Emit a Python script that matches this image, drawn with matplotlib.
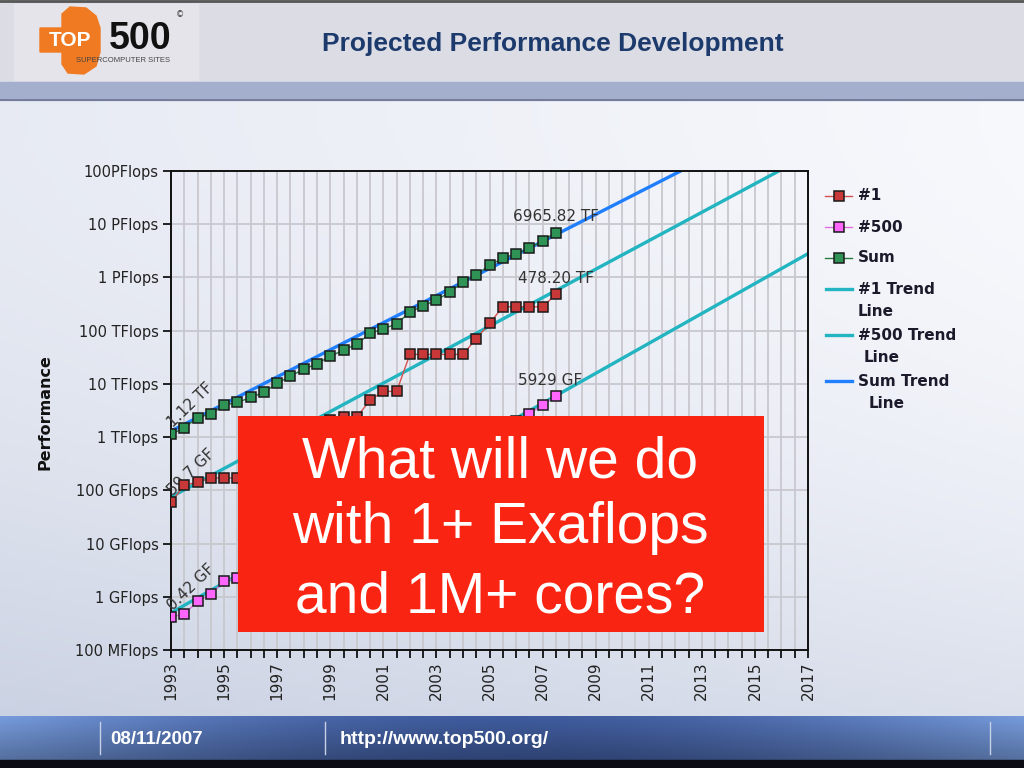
import numpy as np
import matplotlib
matplotlib.use('Agg')
import matplotlib.pyplot as plt
from matplotlib.patches import Rectangle, Polygon
from matplotlib.ticker import FixedLocator, MultipleLocator, NullFormatter

# TOP500 lists, June / November, plotted at year / year + 0.5
years = [1993.0, 1993.5, 1994.0, 1994.5, 1995.0, 1995.5, 1996.0, 1996.5,
         1997.0, 1997.5, 1998.0, 1998.5, 1999.0, 1999.5, 2000.0, 2000.5,
         2001.0, 2001.5, 2002.0, 2002.5, 2003.0, 2003.5, 2004.0, 2004.5,
         2005.0, 2005.5, 2006.0, 2006.5, 2007.0, 2007.5]

# values in GFlops
rank1 = [59.7, 124.5, 143.4, 170.4, 170.4, 170.4, 220.4, 368.2,
         1068, 1338, 1338, 1338, 2121, 2379, 2379, 4938,
         7226, 7226, 35860, 35860, 35860, 35860, 35860, 70720,
         136800, 280600, 280600, 280600, 280600, 478200]
rank500 = [0.42, 0.47, 0.82, 1.11, 1.96, 2.26, 2.6, 3.3,
           9.5, 17.1, 17.6, 24.7, 33.1, 33.1, 43.8, 55.1,
           67.8, 94.3, 134.3, 195.8, 245.1, 403.4, 624.0, 850.6,
           1166, 1646, 2026, 2737, 4005, 5929]
total = [1128, 1493, 2318, 2732, 3992, 4481, 5557, 6929,
         10200, 14100, 18700, 24100, 32800, 43400, 55500, 88600,
         108600, 134400, 222300, 293100, 374500, 528200, 813100, 1127000,
         1690000, 2300000, 2791000, 3530000, 4920000, 6965820]

# fitted trend lines (endpoints)
trend1_x, trend1_y = [1993.0, 2015.9], [75, 1e8]
trend500_x, trend500_y = [1993.0, 2017.0], [0.5, 2.8e6]
trendsum_x, trendsum_y = [1993.0, 2012.2], [1300, 1e8]

ytick_vals = [0.1, 1, 10, 100, 1e3, 1e4, 1e5, 1e6, 1e7, 1e8]
ytick_labels = ['100 MFlops', '1 GFlops', '10 GFlops', '100 GFlops', '1 TFlops',
                '10 TFlops', '100 TFlops', '1 PFlops', '10 PFlops', '100PFlops']
xtick_years = list(range(1993, 2018, 2))

W, H = 1024, 768
fig = plt.figure(figsize=(10.24, 7.68), dpi=100)

# ---- slide background (pixel coords) ----
bg = fig.add_axes([0, 0, 1, 1], zorder=-10)
bg.set_xlim(0, W)
bg.set_ylim(H, 0)
bg.axis('off')

gx, gy = np.meshgrid(np.linspace(0, 1, 200), np.linspace(0, 1, 150))
t = np.clip(0.33 * (1 - gx) + 0.6 * gy ** 2, 0, 1)
c0 = np.array([0.97, 0.975, 0.99])
c1 = np.array([0.78, 0.81, 0.88])
grad = c0[None, None, :] * (1 - t[..., None]) + c1[None, None, :] * t[..., None]
bg.imshow(grad, extent=[0, W, 718, 100], aspect='auto', zorder=0)

# header
bg.add_patch(Rectangle((0, 0), W, 82, color='#dcdce5', zorder=1))
bg.add_patch(Rectangle((14, 4), 184, 76, color='#e4e4ea', zorder=1))
bg.add_patch(Rectangle((0, 82), W, 18, color='#a3afcc', zorder=1))
bg.plot([0, W], [100, 100], color='#6c7490', lw=1.2, zorder=2)
bg.plot([0, W], [1, 1], color='#555555', lw=2, zorder=2)

# logo
bg.add_patch(Polygon([(62, 14), (70, 7), (86, 8), (96, 16), (100, 28), (100, 52),
                      (96, 66), (84, 74), (68, 73), (62, 64), (62, 52), (40, 52),
                      (40, 28), (62, 28)], closed=True, color='#f07a22', zorder=3))
bg.text(70, 40, 'TOP', color='white', fontsize=15, fontweight='bold',
        ha='center', va='center', family='Liberation Sans', zorder=4)
bg.text(140, 39, '500', color='#111111', fontsize=27, fontweight='bold',
        ha='center', va='center', family='Liberation Sans', zorder=4)
bg.text(123, 61, 'SUPERCOMPUTER SITES', color='#444444', fontsize=5.5,
        ha='center', va='center', family='Liberation Sans', zorder=4)
bg.text(180, 15, '©', color='#333333', fontsize=6, ha='center', va='center', zorder=4)

bg.text(553, 44, 'Projected Performance Development', color='#1c3a6c',
        fontsize=19, fontweight='bold', ha='center', va='center',
        family='Liberation Sans', zorder=4)

# footer
fx = np.linspace(0, 1, 300)
k = np.sin(np.pi * fx)[:, None] * 0.6
fcol = np.array([0.42, 0.55, 0.78])[None, :] * (1 - k) + np.array([0.10, 0.18, 0.42])[None, :] * k
fgrad = np.repeat(fcol[None, :, :], 20, axis=0)
fgrad = np.clip(fgrad * np.linspace(1.1, 0.8, 20)[:, None, None], 0, 1)
bg.imshow(fgrad, extent=[0, W, 760, 716], aspect='auto', zorder=1)
bg.add_patch(Rectangle((0, 760), W, 8, color='#0c0c14', zorder=2))
for xl in (100, 325, 990):
    bg.plot([xl, xl], [722, 754], color='#c6d0e6', lw=1, zorder=3)
bg.text(110, 740, '08/11/2007', color='white', fontsize=13.5, fontweight='bold',
        ha='left', va='center', family='Liberation Sans', zorder=4)
bg.text(340, 740, 'http://www.top500.org/', color='white', fontsize=14,
        fontweight='bold', ha='left', va='center', family='Liberation Sans', zorder=4)

# ---- chart ----
ax = fig.add_axes([171 / W, 1 - 650 / H, 637 / W, 479 / H])
ax.set_facecolor('none')
ax.set_yscale('log')
ax.set_xlim(1993, 2017)
ax.set_ylim(0.1, 1e8)

sum_col, top_col = '#1f7fff', '#22b4c0'
ax.plot(trendsum_x, trendsum_y, color=sum_col, lw=2.4, zorder=2)
ax.plot(trend1_x, trend1_y, color=top_col, lw=2.4, zorder=2)
ax.plot(trend500_x, trend500_y, color=top_col, lw=2.4, zorder=2)

mk = dict(marker='s', markersize=6.5, markeredgecolor='#1a1a1a', markeredgewidth=1.1, zorder=4)
series = [('#1', rank1, '#d85050', '#c83838'),
          ('#500', rank500, '#e070e0', '#ff66ff'),
          ('Sum', total, '#2a7a40', '#2f9355')]
for name, vals, lc, fc in series:
    ax.plot(years, vals, color=lc, lw=1, markerfacecolor=fc, **mk)

ax.set_yticks(ytick_vals)
ax.set_yticklabels(ytick_labels)
ax.yaxis.set_minor_locator(FixedLocator([]))
ax.set_xticks(xtick_years)
ax.set_xticklabels([str(y) for y in xtick_years], rotation=90)
ax.xaxis.set_minor_locator(MultipleLocator(0.5))
ax.xaxis.set_minor_formatter(NullFormatter())
ax.tick_params(axis='both', which='both', direction='out', length=6, width=1.2,
               labelcolor='#222222')
ax.tick_params(axis='y', labelsize=10.5, pad=3)
ax.tick_params(axis='x', labelsize=11, pad=2)
ax.grid(True, which='both', axis='x', color='#c8c8ce', lw=1.3, zorder=0)
ax.grid(True, which='major', axis='y', color='#c8c8ce', lw=1.3, zorder=0)
ax.set_axisbelow(True)
for s in ax.spines.values():
    s.set_color('#111111')
    s.set_linewidth(1.4)

lab = dict(fontsize=11, color='#333333', textcoords='offset points')
ax.annotate('6965.82 TF', (years[-1], total[-1]), xytext=(0, 6), ha='center', va='bottom', **lab)
ax.annotate('478.20 TF', (years[-1], rank1[-1]), xytext=(0, 6), ha='center', va='bottom', **lab)
ax.annotate('5929 GF', (years[-1], rank500[-1]), xytext=(-4, 6), ha='center', va='bottom', **lab)
for txt, ser in (('1.12 TF', total), ('59.7 GF', rank1), ('0.42 GF', rank500)):
    ax.annotate(txt, (years[0], ser[0]), xytext=(3, 3), ha='left', va='bottom',
                rotation=44, rotation_mode='anchor', **lab)

fig.text(45 / W, 1 - 412 / H, 'Performance', rotation=90, fontsize=11.5,
         fontweight='bold', color='#111111', ha='center', va='center')

# ---- legend (drawn in pixel coords of the slide) ----
leg_font = dict(fontsize=11, fontweight='bold', color='#1a1a2a', va='center', zorder=4)
leg_y = [196, 227, 258]
for (name, vals, lc, fc), yy in zip(series, leg_y):
    bg.plot([825, 852], [yy, yy], color=lc, lw=1, zorder=3)
    bg.plot([838.5], [yy], marker='s', markersize=6.5, markerfacecolor=fc,
            markeredgecolor='#1a1a1a', markeredgewidth=1.1, zorder=4)
    bg.text(858, yy, name, **leg_font)
trend_entries = [('#1 Trend', 'Line', top_col, 289, 858),
                 ('#500 Trend', 'Line', top_col, 335, 864),
                 ('Sum Trend', 'Line', sum_col, 381, 869)]
for l1, l2, col, yy, x2 in trend_entries:
    bg.plot([826, 852], [yy, yy], color=col, lw=2.4, zorder=3)
    bg.text(858, yy, l1, **leg_font)
    bg.text(x2, yy + 22, l2, **leg_font)

# ---- red overlay box ----
box = fig.add_axes([238 / W, 1 - 632 / H, 526 / W, 216 / H], zorder=5)
box.set_facecolor('#fa2412')
box.set_xticks([])
box.set_yticks([])
for s in box.spines.values():
    s.set_visible(False)
for txt, yy in (('What will we do', 0.787), ('with 1+ Exaflops', 0.481),
                ('and 1M+ cores?', 0.162)):
    box.text(0.498, yy, txt, color='white', fontsize=41, ha='center', va='center',
             family='Liberation Sans', transform=box.transAxes)

fig.savefig('out.png', dpi=100)
